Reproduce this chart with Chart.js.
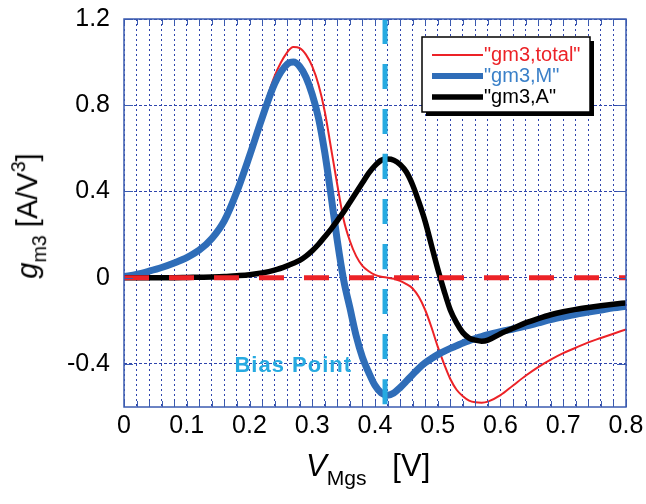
<!DOCTYPE html>
<html>
<head>
<meta charset="utf-8">
<script src="https://cdn.jsdelivr.net/npm/chart.js@4"></script>
<style>
  html, body { margin: 0; padding: 0; background: #fff; }
  #wrap { position: relative; width: 646px; height: 504px; font-family: "Liberation Sans", Arial, sans-serif; }
  #ytitle { position: absolute; left: 29px; top: 216px; transform: translate(-50%, -50%) rotate(-90deg); font-size: 29px; white-space: nowrap; color: #000; }
  #xtitle { position: absolute; left: 306px; top: 448px; font-size: 31px; white-space: nowrap; color: #000; }
  sub { font-size: 68%; vertical-align: -0.45em; }
  sup { font-size: 68%; vertical-align: 0.6em; }
</style>
</head>
<body>
<div id="wrap">
  <canvas id="chart" width="646" height="504"></canvas>
  <div id="ytitle"><i>g</i><sub>m3</sub> [A/V<sup>3</sup>]</div>
  <div id="xtitle"><i>V</i><sub>Mgs</sub>&nbsp;&nbsp;&nbsp;[V]</div>
</div>
<script>
// V_Mgs sample points (V)
const vgs = [0, 0.02, 0.04, 0.06, 0.08, 0.10, 0.12, 0.14, 0.16, 0.18, 0.20, 0.22, 0.24, 0.26,
  0.27, 0.28, 0.29, 0.30, 0.31, 0.32, 0.33, 0.34, 0.35, 0.36, 0.37, 0.38, 0.39, 0.40, 0.41, 0.42,
  0.43, 0.44, 0.45, 0.46, 0.47, 0.48, 0.49, 0.50, 0.51, 0.52, 0.53, 0.54, 0.55, 0.56, 0.57, 0.58,
  0.60, 0.62, 0.64, 0.66, 0.68, 0.70, 0.72, 0.74, 0.76, 0.78, 0.80];

// gm3 total (A/V^3)
const gmTotal = [0.005, 0.015, 0.03, 0.047, 0.068, 0.094, 0.13, 0.185, 0.27, 0.41, 0.58, 0.76, 0.935, 1.045,
  1.07, 1.065, 1.035, 0.98, 0.895, 0.77, 0.6, 0.43, 0.27, 0.17, 0.10, 0.055, 0.03, 0.013, 0.004, 0.0,
  -0.005, -0.015, -0.03, -0.05, -0.09, -0.15, -0.23, -0.32, -0.40, -0.47, -0.52, -0.55, -0.57, -0.578, -0.58, -0.575,
  -0.545, -0.50, -0.455, -0.415, -0.38, -0.35, -0.325, -0.30, -0.28, -0.26, -0.24];

// gm3 of M
const gmM = [0.005, 0.015, 0.03, 0.047, 0.068, 0.093, 0.128, 0.182, 0.265, 0.40, 0.565, 0.74, 0.90, 0.99,
  1.0, 0.98, 0.93, 0.85, 0.74, 0.58, 0.38, 0.17, -0.01, -0.14, -0.27, -0.37, -0.44, -0.50, -0.535, -0.545,
  -0.535, -0.51, -0.48, -0.45, -0.42, -0.395, -0.375, -0.357, -0.342, -0.328, -0.316, -0.303, -0.292, -0.282, -0.273, -0.264,
  -0.25, -0.238, -0.225, -0.21, -0.195, -0.182, -0.17, -0.16, -0.15, -0.14, -0.132];

// gm3 of A
const gmA = [0, 0, 0, 0, 0, 0.001, 0.002, 0.003, 0.005, 0.009, 0.014, 0.022, 0.035, 0.055,
  0.067, 0.08, 0.10, 0.125, 0.155, 0.19, 0.225, 0.265, 0.305, 0.35, 0.395, 0.44, 0.485, 0.52, 0.545, 0.55,
  0.545, 0.525, 0.49, 0.43, 0.35, 0.26, 0.15, 0.04, -0.06, -0.15, -0.21, -0.255, -0.28, -0.29, -0.295, -0.29,
  -0.26, -0.235, -0.21, -0.19, -0.172, -0.158, -0.147, -0.138, -0.13, -0.123, -0.117];

const seriesNames = ['"gm3,total"', '"gm3,M"', '"gm3,A"'];
const biasV = 0.416;
const xMin = 0, xMax = 0.8;
const yTicks = [-0.4, 0, 0.4, 0.8, 1.2];
const yTickLabels = ['-0.4', '0', '0.4', '0.8', '1.2'];
const xGrid = [];
for (let i = 0; i <= 40; i++) xGrid.push(+(i * 0.02).toFixed(2));
const xTickLabels = ['0', '0.1', '0.2', '0.3', '0.4', '0.5', '0.6', '0.7', '0.8'];

const RED = '#ec2227', BLUE = '#2f6db8', BLACK = '#000', CYAN = '#27aae1';
const GRID = '#2f45ad', FRAME = '#3b5bb0';
const FONT = '"Liberation Sans", Arial, sans-serif';

const pts = ys => vgs.map((v, i) => ({ x: v, y: ys[i] }));

// frame, inner ticks, legend box and the bias label
const decor = {
    id: 'decor',
    afterDatasetsDraw(chart) {
        const { ctx, chartArea: a, scales: { x, y } } = chart;
        ctx.save();
        ctx.strokeStyle = FRAME;
        ctx.lineWidth = 1.5;
        ctx.strokeRect(a.left, a.top, a.right - a.left, a.bottom - a.top);
        ctx.lineWidth = 1;
        ctx.beginPath();
        xGrid.forEach(v => {
            const px = Math.round(x.getPixelForValue(v)) + 0.5;
            ctx.moveTo(px, a.bottom); ctx.lineTo(px, a.bottom - 6);
            ctx.moveTo(px, a.top); ctx.lineTo(px, a.top + 6);
        });
        yTicks.forEach(v => {
            const py = Math.round(y.getPixelForValue(v)) + 0.5;
            ctx.moveTo(a.left, py); ctx.lineTo(a.left + 9, py);
            ctx.moveTo(a.right, py); ctx.lineTo(a.right - 9, py);
        });
        ctx.stroke();

        // bias point label
        ctx.fillStyle = CYAN;
        ctx.font = 'bold 22px ' + FONT;
        ctx.letterSpacing = '1px';
        ctx.textBaseline = 'middle';
        ctx.fillText('Bias Point', x.getPixelForValue(0.176), y.getPixelForValue(-0.41));
        ctx.letterSpacing = '0px';

        // legend
        const lx = 422, ly = 37, lw = 168, lh = 75;
        ctx.fillStyle = '#000';
        ctx.fillRect(lx + 4, ly + 4, lw, lh);
        ctx.fillStyle = '#fff';
        ctx.fillRect(lx, ly, lw, lh);
        ctx.strokeStyle = '#000';
        ctx.lineWidth = 1.5;
        ctx.strokeRect(lx, ly, lw, lh);
        ctx.font = '20px ' + FONT;
        ctx.textBaseline = 'middle';
        chart.data.datasets.slice(0, 3).forEach((ds, i) => {
            const ry = ly + 18 + i * 21;
            ctx.strokeStyle = ds.borderColor;
            ctx.lineWidth = Math.min(ds.borderWidth, 6);
            ctx.beginPath();
            ctx.moveTo(lx + 10, ry); ctx.lineTo(lx + 61, ry);
            ctx.stroke();
            ctx.fillStyle = ds.textColor;
            ctx.fillText(ds.label, lx + 62, ry);
        });
        ctx.restore();
    }
};

new Chart(document.getElementById('chart'), {
    type: 'line',
    data: {
        datasets: [
            { label: seriesNames[0], data: pts(gmTotal), borderColor: RED, textColor: RED, borderWidth: 2, order: 4 },
            { label: seriesNames[1], data: pts(gmM), borderColor: BLUE, textColor: '#3b80c8', borderWidth: 7, order: 3 },
            { label: seriesNames[2], data: pts(gmA), borderColor: BLACK, textColor: BLACK, borderWidth: 5.5, order: 2 },
            { label: 'zero', data: [{ x: xMin, y: 0 }, { x: xMax, y: 0 }], borderColor: RED, borderWidth: 5, borderDash: [25, 20], order: 1, tension: 0 },
            { label: 'bias', data: [{ x: biasV, y: 1.2 }, { x: biasV, y: -0.6 }], borderColor: CYAN, borderWidth: 5, borderDash: [25, 20], order: 0, tension: 0 }
        ]
    },
    options: {
        responsive: false,
        animation: false,
        events: [],
        layout: { padding: { top: 19, right: 20, left: 0, bottom: 0 } },
        elements: {
            point: { radius: 0 },
            line: { cubicInterpolationMode: 'monotone', fill: false, borderCapStyle: 'butt' }
        },
        plugins: { legend: { display: false }, tooltip: { enabled: false } },
        scales: {
            x: {
                type: 'linear',
                min: xMin, max: xMax,
                afterBuildTicks: s => { s.ticks = xGrid.map(v => ({ value: v })); },
                afterFit: s => { s.height = 97; s.paddingLeft = 0; s.paddingRight = 0; },
                ticks: {
                    autoSkip: false, maxRotation: 0, padding: 4,
                    color: '#000', font: { family: FONT, size: 25 },
                    callback: (v, i) => (i % 5 === 0 ? xTickLabels[i / 5] : '')
                },
                grid: { color: GRID, lineWidth: 1, drawTicks: false },
                border: { display: false, dash: [2, 3] }
            },
            y: {
                type: 'linear',
                min: -0.6, max: 1.2,
                afterBuildTicks: s => { s.ticks = yTicks.map(v => ({ value: v })); },
                afterFit: s => { s.width = 124; s.paddingTop = 0; s.paddingBottom = 0; },
                ticks: {
                    padding: 14,
                    color: '#000', font: { family: FONT, size: 25 },
                    callback: (v, i) => yTickLabels[i]
                },
                grid: { color: GRID, lineWidth: 1, drawTicks: false },
                border: { display: false, dash: [3, 2] }
            }
        }
    },
    plugins: [decor]
});
</script>
</body>
</html>
